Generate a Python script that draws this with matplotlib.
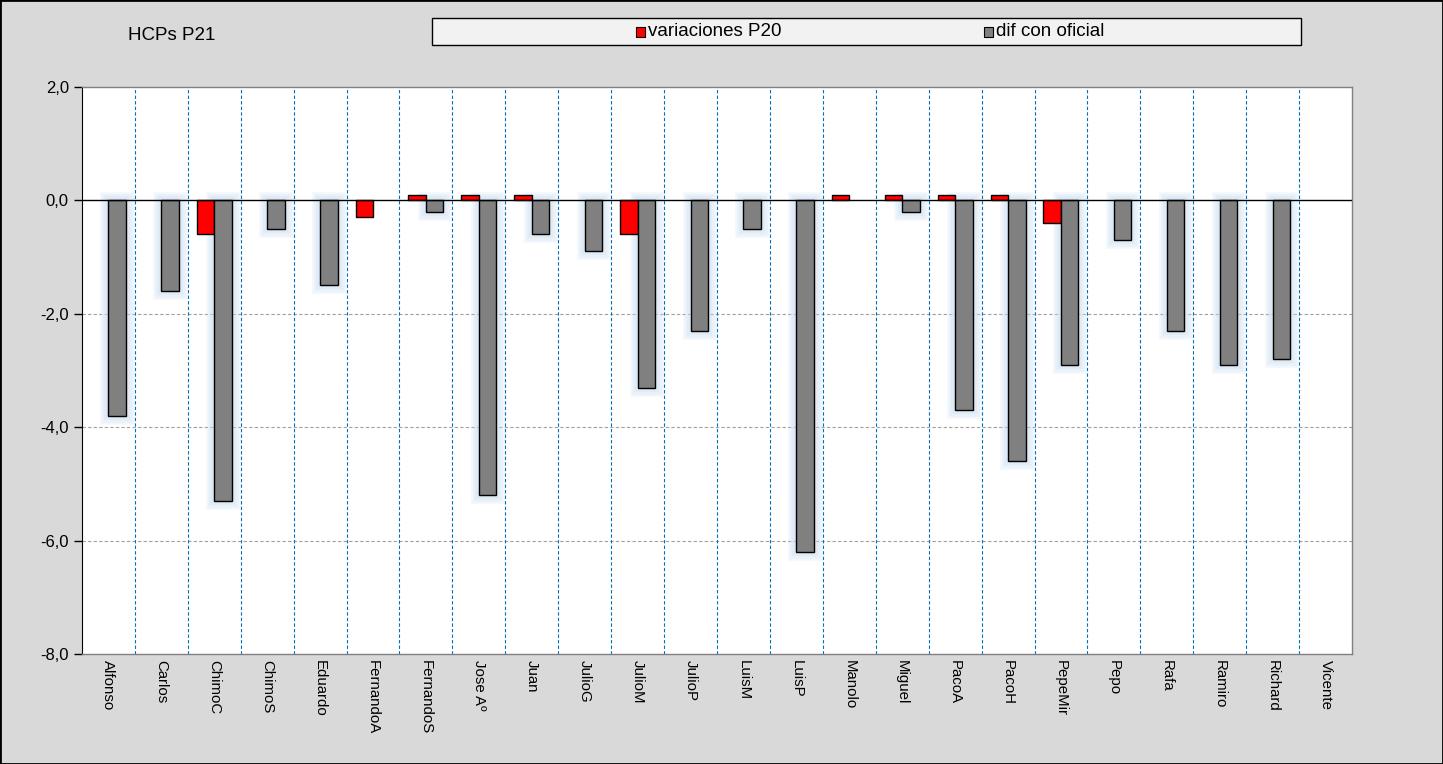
import matplotlib
matplotlib.use("Agg")
from matplotlib import pyplot as plt
from matplotlib.patches import Rectangle
from matplotlib.ticker import FuncFormatter
import numpy as np

plt.rcParams["font.family"] = ["Liberation Sans", "DejaVu Sans"]

BG_COLOR = "#d9d9d9"
RED = "#ff0000"
GRAY = "#808080"

names = ["Alfonso", "Carlos", "ChimoC", "ChimoS", "Eduardo", "FernandoA",
         "FernandoS", "Jose Aº", "Juan", "JulioG", "JulioM", "JulioP",
         "LuisM", "LuisP", "Manolo", "Miguel", "PacoA", "PacoH", "PepeMir",
         "Pepo", "Rafa", "Ramiro", "Richard", "Vicente"]
variaciones = [0, 0, -0.6, 0, 0, -0.3, 0.1, 0.1, 0.1, 0, -0.6, 0,
               0, 0, 0.1, 0.1, 0.1, 0.1, -0.4, 0, 0, 0, 0, 0]
dif_oficial = [-3.8, -1.6, -5.3, -0.5, -1.5, 0, -0.2, -5.2, -0.6, -0.9, -3.3, -2.3,
               -0.5, -6.2, 0, -0.2, -3.7, -4.6, -2.9, -0.7, -2.3, -2.9, -2.8, 0]
y_ticks = [2, 0, -2, -4, -6, -8]

fig = plt.figure(figsize=(14.43, 7.64), dpi=100, facecolor=BG_COLOR)
fig.patches.append(Rectangle((0, 0), 1, 1, transform=fig.transFigure,
                             fill=False, edgecolor="black", linewidth=2))
ax = fig.add_axes([82 / 1443, 1 - 654 / 764, (1352 - 82) / 1443, (654 - 87) / 764])

x = np.arange(len(names))
w = 0.33
var = np.array(variaciones, dtype=float)
dif = np.array(dif_oficial, dtype=float)
mv = var != 0
md = dif != 0

# Soft blue glow behind the gray bars
for k in range(4):
    ax.bar(x[md] + w / 2, dif[md], w, color="none",
           edgecolor="#c6d9f0", linewidth=12 - 3 * k, alpha=0.2, zorder=2)
ax.bar(x[mv] - w / 2, var[mv], w, color=RED, edgecolor="black",
       linewidth=1, zorder=3, label="variaciones P20")
ax.bar(x[md] + w / 2, dif[md], w, color=GRAY, edgecolor="black",
       linewidth=1, zorder=3, label="dif con oficial")

ax.set_xlim(-0.5, len(names) - 0.5)
ax.set_ylim(-8, 2)
ax.axhline(0, color="black", linewidth=1, zorder=4)
for yv in [-2, -4, -6]:
    ax.axhline(yv, color="#a0a0a0", linewidth=0.8, linestyle=(0, (3, 2)), zorder=1)
for xv in np.arange(0.5, len(names) - 0.5, 1):
    ax.axvline(xv, color="#0070c0", linewidth=0.8, linestyle=(0, (3, 2)), zorder=1)

ax.set_yticks(y_ticks)
ax.yaxis.set_major_formatter(FuncFormatter(lambda v, p: f"{v:.1f}".replace(".", ",")))
ax.set_xticks(x)
ax.set_xticklabels(names, rotation=270, fontsize=10.8, va="top", ha="center")
ax.tick_params(axis="x", length=0, pad=4)
ax.tick_params(axis="y", labelsize=12, length=6, width=1, direction="out")

ax.spines["left"].set_color("black")
for s in ["top", "right", "bottom"]:
    ax.spines[s].set_color("#808080")
    ax.spines[s].set_linewidth(1)

fig.text(128 / 1443, 1 - 35 / 764, "HCPs P21", fontsize=13.5, va="center", ha="left")

# Legend box
fig.patches.append(Rectangle((432 / 1443, 1 - 45 / 764), (1301 - 432) / 1443, 27 / 764,
                             transform=fig.transFigure, facecolor="#f2f2f2",
                             edgecolor="black", linewidth=1))
for px, label, col in [(636, "variaciones P20", RED), (984, "dif con oficial", GRAY)]:
    fig.patches.append(Rectangle((px / 1443, 1 - 37 / 764), 9 / 1443, 10 / 764,
                                 transform=fig.transFigure, facecolor=col,
                                 edgecolor="black", linewidth=0.8))
    fig.text((px + 12) / 1443, 1 - 32 / 764, label, fontsize=13.5, va="center", ha="left")

plt.savefig("out.png", dpi=100, facecolor=BG_COLOR)
